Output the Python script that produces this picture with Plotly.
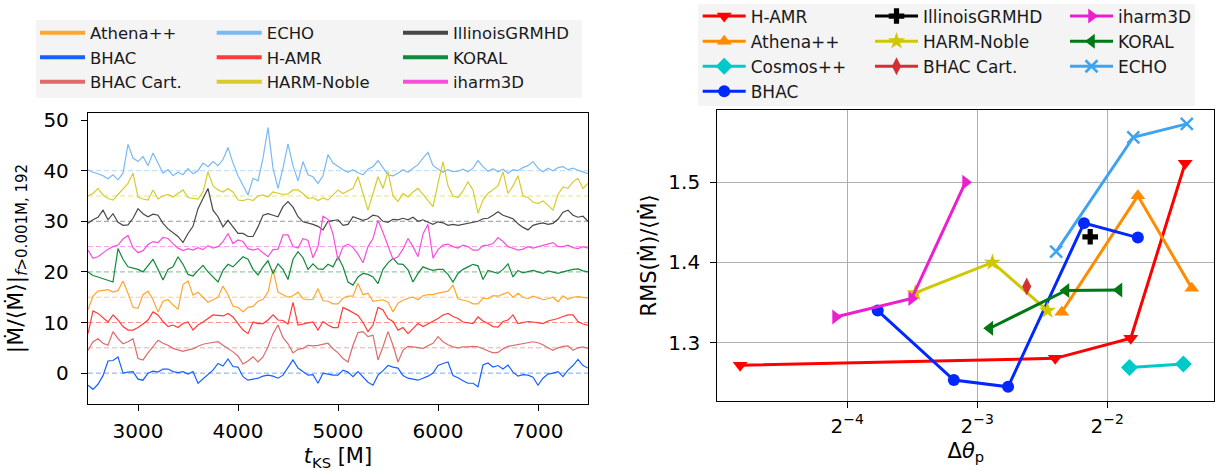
import math
import numpy as np
import plotly.graph_objects as go

# ---------------------------------------------------------------------------
# Left panel: high-pass filtered, normalised accretion rate per code,
# each code shifted upward by a fixed offset of 5.
# ---------------------------------------------------------------------------
t_ks = np.arange(2500, 7501, 50)  # sampling times [M]

ts_codes = ["Athena++", "BHAC", "BHAC Cart.", "ECHO", "H-AMR",
            "HARM-Noble", "IllinoisGRMHD", "KORAL", "iharm3D"]

ts_offsets = {"BHAC": 0, "BHAC Cart.": 5, "H-AMR": 10, "Athena++": 15,
              "KORAL": 20, "iharm3D": 25, "IllinoisGRMHD": 30,
              "HARM-Noble": 35, "ECHO": 40}

echo_dm = [0.2, -0.3, -0.6, -1.0, -1.6, -0.8, -1.8, -0.5, 5.2, 2.5,
           1.8, 2.8, 1.0, 3.5, 1.5, -0.5, 0.2, -1.0, -0.3, -0.8,
           0.4, -0.6, 0.0, 1.5, 0.8, 1.8, 1.0, 2.2, 4.6, 1.5,
           -1.0, -3.0, -4.8, -1.5, -2.0, 2.5, 8.5, 0.5, -3.5, 0.5,
           5.3, 1.0, -2.0, 1.8, -0.8, -1.2, -2.5, -1.0, 3.2, 1.5,
           0.8, 0.2, -0.3, 0.2, -0.4, -0.8, 0.3, 0.8, 2.0, 0.5,
           -0.8, -1.0, -0.5, 0.2, -0.3, 0.5, 1.2, 2.5, 3.6, 1.0,
           0.3, -0.3, 0.2, -0.2, -0.1, 0.3, -0.2, 0.5, 2.0, 0.8,
           -0.1, 0.4, -0.2, 0.3, -0.5, 0.2, 0.0, 0.6, 1.0, 1.8,
           0.5, -0.2, 0.5, 0.0, 0.6, 0.8, 0.2, 0.5, 0.1, -0.3,
           -0.6]

harm_noble_dm = [0.0, 0.5, 1.5, 0.2, -0.5, -0.8, 0.3, 1.4, 2.5, 4.5,
                 -0.2, -0.6, -0.8, 1.2, -0.6, 0.0, 0.3, -0.2, 0.5, 1.2,
                 -0.3, -0.5, -0.6, 0.8, 4.8, 2.0, 1.2, 0.8, 1.5, 0.8,
                 -0.8, -0.9, -0.6, -0.9, 0.0, 0.2, -0.2, 0.8, 0.6, 0.3,
                 0.4, 1.2, 1.2, 0.5, -0.5, -0.3, -0.9, -0.4, -0.8, 0.2,
                 1.2, 0.5, 1.0, 1.5, 3.8, 0.5, -2.8, 0.5, 3.8, 1.5,
                 4.8, 0.0, -1.1, 0.5, -0.2, 0.8, 1.5, 0.3, -1.0, -2.1,
                 2.5, 6.8, 2.0, 0.0, -0.3, 1.0, 2.8, 1.2, -3.4, -0.8,
                 0.5, 1.2, 2.0, 4.8, 0.5, 2.0, 4.0, 0.0, -0.3, -1.2,
                 -1.5, -1.0, -1.8, -2.8, 0.3, 1.8, 1.5, 2.8, 3.5, 1.5,
                 2.5]

illinois_dm = [-0.4, 0.3, 0.8, 2.2, 0.3, 1.5, -0.2, -0.8, -0.7, 0.6,
               2.5, 1.5, 0.9, 1.4, 1.2, -0.4, -1.5, -2.2, -3.0, -4.2,
               -2.4, -1.0, 2.5, 4.5, 6.5, 2.2, 0.9, -1.1, 0.2, -1.1,
               -2.4, -2.4, -3.0, -3.0, -1.1, 1.2, 1.5, 1.2, 0.9, 2.9,
               3.9, 2.8, 0.9, -0.1, -0.3, -0.6, -1.0, -1.7, 0.0, 0.2,
               0.3, -0.8, -0.6, 0.9, 0.6, 0.2, 0.5, 1.2, 1.0, 0.0,
               -0.2, 0.4, 0.3, 0.6, 0.3, 0.8, 0.0, 0.3, -0.2, -0.6,
               -0.1, -0.3, -0.8, -0.6, -0.8, -0.6, -0.5, -0.2, 0.0, 0.5,
               0.6, 1.2, 1.9, 1.2, 0.9, 0.5, -0.5, -1.2, -1.7, -0.8,
               -0.5, -0.3, -0.6, -0.4, 0.4, 1.8, 2.2, 1.2, 0.8, 1.0,
               0.0]

iharm3d_dm = [-0.7, -2.3, -2.0, -1.2, -0.5, 0.0, 0.3, 1.5, 2.2, -0.2,
              -1.2, -0.8, 0.4, 1.0, 0.8, 1.8, 1.6, 0.6, -0.3, -0.8,
              -0.4, -0.7, -0.2, -0.6, 0.2, -0.3, 0.0, 1.0, 2.6, 0.6,
              1.3, 1.0, -0.4, -0.7, -0.4, -1.2, -2.0, -0.6, -0.5, 2.3,
              2.3, 0.0, -0.3, 1.6, 1.2, -2.2, 0.0, 6.0, 5.4, 2.5,
              -2.7, 0.0, 0.5, -0.2, -1.5, -3.2, 0.0, 1.6, 5.2, 2.8,
              0.0, -2.5, -2.0, -0.5, 1.6, 0.0, -2.0, 2.5, 4.4, -2.3,
              -0.6, 0.3, 0.5, 0.0, -0.3, 0.3, 0.0, -0.7, -0.7, 0.2,
              0.3, 0.6, 1.8, 1.0, 0.0, -0.4, -0.7, -0.5, 0.0, -0.3,
              0.0, 0.3, 0.6, 0.8, 0.0, 0.0, 0.3, -0.2, -0.4, 0.0,
              -0.3]

koral_dm = [0.0, -0.7, -1.0, -1.3, -1.6, -2.0, 4.6, 2.5, 1.0, 0.8,
            0.5, 0.0, 1.3, 2.5, 0.5, -1.6, 0.5, 1.0, 3.0, 1.5,
            -0.5, -0.8, 0.3, 1.3, 0.0, -1.0, -2.0, 0.3, 1.5, 1.0,
            2.0, 3.0, 2.5, 0.5, -0.6, 1.0, 2.2, -0.3, 1.6, 0.5,
            -1.5, 2.5, 4.0, 2.8, 0.5, 1.6, 0.6, 0.5, 1.5, 1.0,
            3.0, 1.0, -2.0, -2.6, -1.0, -0.3, -0.5, -1.0, -2.3, 0.5,
            1.8, 2.7, 1.6, 1.5, 0.4, -2.0, -0.3, 1.0, 0.6, 0.3,
            0.5, 0.5, -0.5, -2.0, -0.3, 0.5, 1.0, 1.5, 1.2, -1.5,
            0.3, 0.0, -0.3, 0.5, 1.6, -1.0, 0.3, -0.2, 0.0, 0.3,
            0.0, -0.3, 0.2, 0.0, -0.3, 0.0, 0.3, 0.5, 0.6, 0.2,
            0.0]

athena_dm = [-2.5, 0.2, 1.2, 1.4, 1.5, 1.0, 1.3, 3.2, 0.8, -2.0,
             -2.2, 0.5, 1.2, -0.5, -2.9, -0.8, -0.5, -1.5, -2.4, 2.5,
             3.2, 0.4, 1.0, 0.0, -1.0, -0.5, 0.0, 2.2, 0.5, -1.8,
             -2.0, -2.9, -2.0, -1.8, -0.8, -0.4, 1.0, 5.5, 1.0, 0.5,
             0.0, 0.3, 1.0, -0.3, -0.5, -0.4, 1.7, -0.7, -0.8, -1.3,
             -1.3, -0.2, 0.2, 0.2, 2.7, 0.5, 0.8, -0.8, -0.6, -0.5,
             -1.0, -2.9, -1.2, -0.6, -0.2, 0.0, -0.5, 0.3, 0.5, 0.5,
             0.8, 1.0, 1.2, 2.4, -0.3, -0.6, -0.8, -1.3, -1.3, -0.2,
             -0.3, 0.3, 0.2, 0.6, 1.0, 0.0, 0.8, 0.0, -0.3, 0.2,
             -0.2, -0.5, -0.3, 0.0, -0.9, 0.3, -0.4, 0.0, 0.1, 0.0,
             -0.2]

hamr_dm = [-2.2, 2.3, 1.8, 1.0, 0.1, 1.5, 0.5, -0.8, -1.5, -1.5,
           -1.0, -0.3, 0.5, 2.1, 1.5, 0.2, -0.8, -0.5, -1.0, -0.2,
           0.1, -1.5, -0.5, 0.1, 0.8, 1.5, 1.4, 1.3, 1.8, 1.1,
           -0.2, -1.5, -2.2, 0.1, -0.2, -0.2, 0.5, 1.5, 0.5, 0.4,
           -0.3, 4.0, -0.5, -0.3, 0.0, 0.1, -1.5, 0.2, -0.5, -1.0,
           -1.0, 3.0, 2.5, 2.0, 1.4, 0.0, -1.8, -0.5, 3.0, 2.5,
           0.8, 0.2, -1.5, -1.0, -2.2, -1.2, -0.2, -0.8, -0.3, 0.2,
           0.8, 1.5, 1.8, 1.2, 0.8, 0.1, 0.0, -0.2, 1.1, 0.3,
           -0.2, -0.8, -0.9, 0.2, 0.5, 1.5, -0.2, 0.0, 0.2, 0.1,
           0.0, -0.2, 0.3, 0.5, 0.8, 1.2, 1.5, 1.5, 0.2, -0.3,
           -0.5]

bhac_cart_dm = [-0.5, 1.2, 1.8, 0.9, 0.5, 3.2, 1.8, 0.8, 1.2, 1.8,
                -2.1, -2.4, -1.0, 0.3, 1.5, 0.9, 0.5, -0.1, -0.4, -0.7,
                -0.4, -0.2, 0.3, 0.7, 0.9, 1.0, 1.2, 0.5, -0.1, -0.8,
                -1.6, -3.2, -2.6, -1.8, -2.8, -1.8, 0.2, 2.8, 4.5, 2.0,
                0.8, -1.0, -0.3, -0.1, 0.5, 0.4, 0.5, 0.7, 0.9, -0.2,
                -1.0, -2.1, -2.8, 0.5, 3.0, 3.2, 2.2, 2.5, -2.4, 0.2,
                3.2, 0.5, -2.8, -0.5, 0.3, 0.2, 0.0, -0.1, 0.4, 0.9,
                2.2, 1.2, 0.6, 0.2, 0.0, 0.2, 0.2, 0.3, 0.2, -0.2,
                -0.5, -1.0, -0.9, -0.2, 0.3, 0.5, 0.6, 0.8, 1.0, 1.2,
                1.0, 0.6, 0.0, -0.5, 0.0, 0.3, 0.4, -0.5, 0.0, 0.2,
                -0.1]

bhac_dm = [-2.4, -3.2, -2.2, -0.5, 2.4, 2.5, 3.2, 0.0, 0.2, 0.3,
           -1.2, -1.4, 0.0, 0.4, 0.2, 0.8, 0.8, 0.3, 0.1, 0.3,
           -0.2, 0.3, -2.0, -1.1, -0.2, 0.6, 1.9, 1.4, 2.8, 1.3,
           1.2, -0.7, -1.4, -1.2, -1.0, -0.6, -0.4, -0.6, -1.0, -0.4,
           1.0, 2.6, 1.0, 0.3, -0.4, -0.3, -2.0, 0.0, -0.2, -0.4,
           -0.4, 0.6, 0.2, -0.7, 0.3, -0.8, -1.8, -2.4, -0.4, 0.5,
           1.5, 1.2, 1.0, -0.5, -1.0, -1.2, -1.4, -1.0, -0.6, 0.0,
           1.5, 1.9, 2.2, -0.5, -0.9, -1.5, -2.0, -2.0, -2.7, 1.6,
           2.0, 1.2, 1.5, 0.8, 1.6, 0.2, -0.6, -0.3, -0.4, -0.8,
           -2.4, -1.0, -0.2, 0.0, 0.3, -0.7, 0.6, 1.5, 2.7, 1.5,
           1.0]

ts_series = {"Athena++": athena_dm, "BHAC": bhac_dm, "BHAC Cart.": bhac_cart_dm,
             "ECHO": echo_dm, "H-AMR": hamr_dm, "HARM-Noble": harm_noble_dm,
             "IllinoisGRMHD": illinois_dm, "KORAL": koral_dm, "iharm3D": iharm3d_dm}

ts_colors = {"Athena++": "#ffa630", "BHAC": "#1560ff", "BHAC Cart.": "#e06a6a",
             "ECHO": "#7abaf2", "H-AMR": "#ff3b3b", "HARM-Noble": "#d8cc2c",
             "IllinoisGRMHD": "#474747", "KORAL": "#12893b", "iharm3D": "#f64fdc"}

ts_legend_cols = {"legend": ["Athena++", "BHAC", "BHAC Cart."],
                  "legend2": ["ECHO", "H-AMR", "HARM-Noble"],
                  "legend3": ["IllinoisGRMHD", "KORAL", "iharm3D"]}

# ---------------------------------------------------------------------------
# Right panel: RMS of the accretion rate vs polar resolution
# ---------------------------------------------------------------------------
rms_codes = ["H-AMR", "Athena++", "Cosmos++", "BHAC", "IllinoisGRMHD",
             "HARM-Noble", "BHAC Cart.", "iharm3D", "KORAL", "ECHO"]

dtheta = {
    "H-AMR":         [0.0353, 0.1894, 0.2833, 0.3786],
    "Athena++":      [0.1961, 0.2942, 0.3922],
    "Cosmos++":      [0.2813, 0.3751],
    "BHAC":          [0.0735, 0.1103, 0.1473, 0.2208, 0.2942],
    "IllinoisGRMHD": [0.2282],
    "HARM-Noble":    [0.0898, 0.1355, 0.1817],
    "BHAC Cart.":    [0.1627],
    "iharm3D":       [0.0587, 0.0881, 0.1174],
    "KORAL":         [0.1336, 0.2006, 0.2661],
    "ECHO":          [0.1903, 0.2872, 0.3820],
}
rms_mdot = {
    "H-AMR":         [1.272, 1.2805, 1.3055, 1.5237],
    "Athena++":      [1.338, 1.483, 1.368],
    "Cosmos++":      [1.269, 1.2734],
    "BHAC":          [1.340, 1.2535, 1.245, 1.449, 1.431],
    "IllinoisGRMHD": [1.432],
    "HARM-Noble":    [1.362, 1.400, 1.340],
    "BHAC Cart.":    [1.370],
    "iharm3D":       [1.332, 1.355, 1.500],
    "KORAL":         [1.318, 1.365, 1.3657],
    "ECHO":          [1.4135, 1.556, 1.5727],
}

rms_colors = {"H-AMR": "#ff0000", "Athena++": "#ff8c00", "Cosmos++": "#00c9c9",
              "BHAC": "#0028ff", "IllinoisGRMHD": "#000000", "HARM-Noble": "#cfc800",
              "BHAC Cart.": "#d43030", "iharm3D": "#ec1fcf", "KORAL": "#007814",
              "ECHO": "#3fa4f0"}
rms_symbols = {"H-AMR": "triangle-down", "Athena++": "triangle-up", "Cosmos++": "diamond",
               "BHAC": "circle", "IllinoisGRMHD": "cross", "HARM-Noble": "star",
               "BHAC Cart.": "diamond-tall", "iharm3D": "triangle-right",
               "KORAL": "triangle-left", "ECHO": "x-thin-open"}
rms_legend_cols = {"legend4": ["H-AMR", "Athena++", "Cosmos++", "BHAC"],
                   "legend5": ["IllinoisGRMHD", "HARM-Noble", "BHAC Cart."],
                   "legend6": ["iharm3D", "KORAL", "ECHO"]}

W, H = 1223, 471
FONT = "DejaVu Sans"
TICK_SIZE = 20
TITLE_SIZE = 21

fig = go.Figure()

# offset reference lines (dashed) and time series
for code in ts_codes:
    off = ts_offsets[code]
    fig.add_trace(go.Scatter(
        x=[t_ks[0], t_ks[-1]], y=[off, off], mode="lines",
        line=dict(color=ts_colors[code], width=1, dash="5px,3px"),
        opacity=0.55, showlegend=False, hoverinfo="skip",
        xaxis="x", yaxis="y"))
for code in ts_codes:
    off = ts_offsets[code]
    fig.add_trace(go.Scatter(
        x=t_ks, y=np.array(ts_series[code]) + off, mode="lines",
        line=dict(color=ts_colors[code], width=1.2),
        showlegend=False, xaxis="x", yaxis="y"))

# legend entries for the time-series panel (thicker line swatches)
for leg, names in ts_legend_cols.items():
    for code in names:
        fig.add_trace(go.Scatter(
            x=[None], y=[None], mode="lines", name=code,
            line=dict(color=ts_colors[code], width=4),
            legend=leg, xaxis="x", yaxis="y"))

# RMS vs resolution
for leg, names in rms_legend_cols.items():
    for code in names:
        sym = rms_symbols[code]
        size = 12 if code in ("BHAC", "ECHO") else 13
        fig.add_trace(go.Scatter(
            x=dtheta[code], y=rms_mdot[code], mode="lines+markers", name=code,
            line=dict(color=rms_colors[code], width=3),
            marker=dict(symbol=sym, size=size, color=rms_colors[code],
                        line=dict(color=rms_colors[code], width=2.5 if code == "ECHO" else 0)),
            legend=leg, xaxis="x2", yaxis="y2"))

axis_common = dict(showline=True, linecolor="black", linewidth=1.3, mirror=True,
                   ticks="outside", ticklen=6, tickwidth=1.2, tickcolor="black",
                   zeroline=False, tickfont=dict(size=TICK_SIZE, color="black", family=FONT))

ylabel_left = ("<span style='font-size:22px'>|\u1E40/\u27E8\u1E40\u27E9|</span>"
               "<sub><span style='font-size:15px'><i>f</i>>0.001M, 192</span></sub>")

fig.update_layout(
    width=W, height=H,
    margin=dict(l=0, r=0, t=0, b=0, autoexpand=False),
    paper_bgcolor="white", plot_bgcolor="white",
    font=dict(family=FONT, color="black"),
    xaxis=dict(domain=[88 / W, 588 / W], anchor="y", range=[2500, 7500],
               tickvals=[3000, 4000, 5000, 6000, 7000], showgrid=False,
               ticklabelstandoff=3,
               title=dict(text="<i>t</i><sub>KS</sub> [M]", font=dict(size=TITLE_SIZE), standoff=6),
               **axis_common),
    yaxis=dict(domain=[1 - 404 / H, 1 - 113 / H], anchor="x", range=[-6.1, 51.4],
               tickvals=[0, 10, 20, 30, 40, 50], showgrid=False,
               ticklabelstandoff=8,
               title=dict(text=ylabel_left, font=dict(size=TITLE_SIZE), standoff=14),
               **axis_common),
    xaxis2=dict(domain=[717.3 / W, 1214.3 / W], anchor="y2", type="log",
                range=[-5.0 * math.log10(2), -1.177 * math.log10(2)],
                tickvals=[2 ** -4, 2 ** -3, 2 ** -2],
                ticktext=["2<sup>\u22124</sup>", "2<sup>\u22123</sup>", "2<sup>\u22122</sup>"],
                showgrid=True, gridcolor="#b0b0b0", gridwidth=1,
                ticklabelstandoff=1,
                title=dict(text="\u0394<i>\u03B8</i><sub>p</sub>", font=dict(size=TITLE_SIZE), standoff=6),
                **axis_common),
    yaxis2=dict(domain=[1 - 400.7 / H, 1 - 110 / H], anchor="x2", range=[1.2277, 1.590],
                tickvals=[1.3, 1.4, 1.5], ticktext=["1.3", "1.4", "1.5"],
                showgrid=True, gridcolor="#b0b0b0", gridwidth=1,
                ticklabelstandoff=6,
                title=dict(text="RMS(\u1E40)/\u27E8\u1E40\u27E9", font=dict(size=TITLE_SIZE), standoff=5),
                **axis_common),
    shapes=[
        dict(type="rect", xref="paper", yref="paper", layer="below",
             x0=36 / W, x1=582 / W, y0=1 - 98 / H, y1=1 - 20 / H,
             fillcolor="#f4f4f4", line=dict(width=0)),
        dict(type="rect", xref="paper", yref="paper", layer="below",
             x0=698 / W, x1=1195 / W, y0=1 - 106 / H, y1=1 - 4 / H,
             fillcolor="#f4f4f4", line=dict(width=0)),
    ],
)

legend_common = dict(xanchor="left", yanchor="top", bgcolor="rgba(0,0,0,0)",
                     borderwidth=0, orientation="v", traceorder="normal")
left_font = dict(size=16.5, family=FONT, color="#1a1a1a")
right_font = dict(size=17, family=FONT, color="#1a1a1a")
fig.update_layout(
    legend=dict(x=35 / W, y=1 - 15.5 / H, font=left_font, itemwidth=45, **legend_common),
    legend2=dict(x=211.7 / W, y=1 - 15.5 / H, font=left_font, itemwidth=45, **legend_common),
    legend3=dict(x=398 / W, y=1 - 15.5 / H, font=left_font, itemwidth=45, **legend_common),
    legend4=dict(x=697.7 / W, y=1 + 1.5 / H, font=right_font, itemwidth=43, **legend_common),
    legend5=dict(x=870 / W, y=1 + 1.5 / H, font=right_font, itemwidth=43, **legend_common),
    legend6=dict(x=1065 / W, y=1 + 1.5 / H, font=right_font, itemwidth=43, **legend_common),
)

fig.write_html("out.html")
